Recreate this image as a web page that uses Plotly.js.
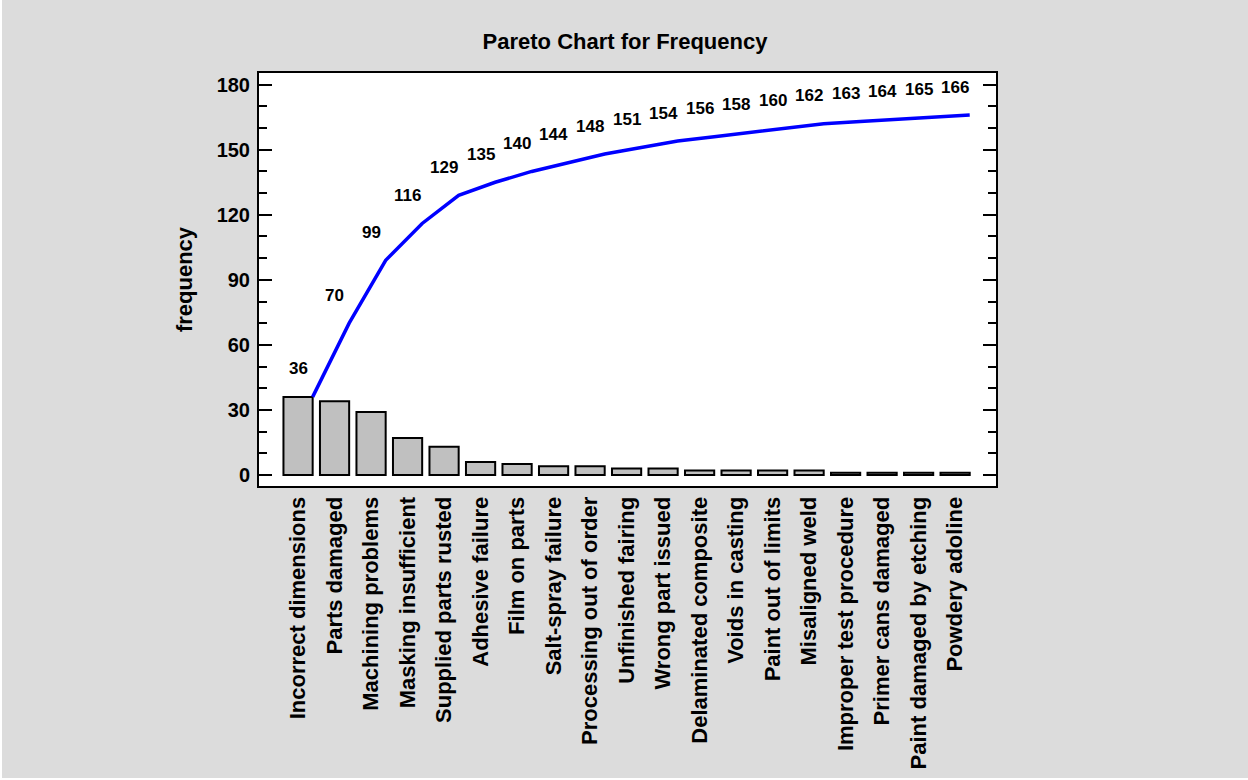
<!DOCTYPE html>
<html>
<head>
<meta charset="utf-8">
<script src="https://cdn.plot.ly/plotly-3.0.1.min.js"></script>
<style>
  body { margin: 0; background: #ffffff; }
  #myDiv { position: absolute; left: 2px; top: 0; width: 1246px; height: 778px; }
</style>
</head>
<body>
<div id="myDiv"></div>
<script>
graphDiv = 'myDiv'

// values
let categories = [
  'Incorrect dimensions', 'Parts damaged', 'Machining problems', 'Masking insufficient',
  'Supplied parts rusted', 'Adhesive failure', 'Film on parts', 'Salt-spray failure',
  'Processing out of order', 'Unfinished fairing', 'Wrong part issued', 'Delaminated composite',
  'Voids in casting', 'Paint out of limits', 'Misaligned weld', 'Improper test procedure',
  'Primer cans damaged', 'Paint damaged by etching', 'Powdery adoline'
]
let counts = [36, 34, 29, 17, 13, 6, 5, 4, 4, 3, 3, 2, 2, 2, 2, 1, 1, 1, 1]
let cumulative = [36, 70, 99, 116, 129, 135, 140, 144, 148, 151, 154, 156, 158, 160, 162, 163, 164, 165, 166]
let yTicks = [0, 30, 60, 90, 120, 150, 180]

let fontFamily = 'Liberation Sans, Arial, sans-serif'
let idx = categories.map((c, i) => i)

let bars = {
  x: idx,
  y: counts,
  type: 'bar',
  width: 0.8,
  marker: { color: '#c0c0c0', line: { color: '#000000', width: 2 } },
  hoverinfo: 'skip',
  showlegend: false
}

// cumulative line runs through the right edge of each bar
let cumLine = {
  x: idx.map(i => i + 0.4),
  y: cumulative,
  type: 'scatter',
  mode: 'lines',
  line: { color: '#0000ff', width: 3.5 },
  hoverinfo: 'skip',
  showlegend: false
}

let labels = cumulative.map((v, i) => ({
  x: i,
  y: v,
  xref: 'x',
  yref: 'y',
  text: String(v),
  showarrow: false,
  yshift: 28,
  font: { family: fontFamily, size: 17, color: '#000000', weight: 'bold' }
}))

let layout = {
  autosize: false,
  width: 1246,
  height: 778,
  paper_bgcolor: '#dcdcdc',
  plot_bgcolor: '#ffffff',
  margin: { l: 257, r: 252, t: 73, b: 292 },
  font: { family: fontFamily, color: '#000000' },
  title: {
    text: 'Pareto Chart for Frequency',
    font: { family: fontFamily, size: 22, weight: 'bold', color: '#000000' },
    x: 0.5,
    xanchor: 'center',
    yref: 'container',
    y: 1 - 41 / 778,
    yanchor: 'middle'
  },
  xaxis: {
    range: [-1.07, 19.12],
    tickmode: 'array',
    tickvals: idx,
    ticktext: categories,
    tickangle: -90,
    ticks: '',
    ticklabelstandoff: 0,
    tickfont: { family: fontFamily, size: 22, weight: 'bold' },
    showline: true,
    linecolor: '#000000',
    linewidth: 2,
    mirror: true,
    showgrid: false,
    zeroline: false,
    fixedrange: true
  },
  yaxis: {
    range: [-5.1, 185.4],
    tickmode: 'array',
    tickvals: yTicks,
    ticks: 'inside',
    ticklen: 13,
    tickwidth: 2,
    tickcolor: '#000000',
    minor: { dtick: 10, ticks: 'inside', ticklen: 8, tickwidth: 2, tickcolor: '#000000', showgrid: false },
    ticklabelstandoff: 3,
    tickfont: { family: fontFamily, size: 20, weight: 'bold' },
    title: { text: 'frequency', standoff: 18, font: { family: fontFamily, size: 22, weight: 'bold' } },
    showline: true,
    linecolor: '#000000',
    linewidth: 2,
    mirror: 'allticks',
    showgrid: false,
    zeroline: false,
    fixedrange: true
  },
  annotations: labels,
  bargap: 0.2
}

Plotly.newPlot(graphDiv, [bars, cumLine], layout, { staticPlot: true })
</script>
</body>
</html>
